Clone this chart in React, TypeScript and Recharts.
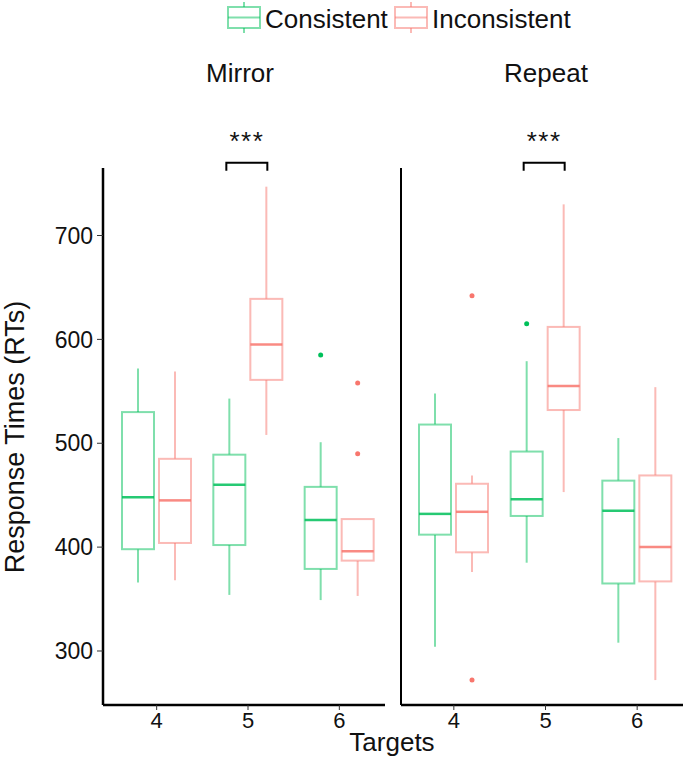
import React from 'react'
import { Bar, ComposedChart, XAxis, YAxis } from 'recharts'

const targets = ['4', '5', '6']

// box summaries: [low whisker, Q1, median, Q3, high whisker]
const mirrorConsistent = [
  [366, 398, 448, 530, 572],
  [354, 402, 460, 489, 543],
  [349, 379, 426, 458, 501],
]
const mirrorInconsistent = [
  [368, 404, 445, 485, 569],
  [508, 561, 595, 639, 747],
  [353, 387, 396, 427, 427],
]
const mirrorConsistentOutliers = [[], [], [585]]
const mirrorInconsistentOutliers = [[], [], [558, 490]]

const repeatConsistent = [
  [304, 412, 432, 518, 548],
  [385, 430, 446, 492, 579],
  [308, 365, 435, 464, 505],
]
const repeatInconsistent = [
  [376, 395, 434, 461, 469],
  [453, 532, 555, 612, 730],
  [272, 367, 400, 469, 554],
]
const repeatConsistentOutliers = [[], [615], []]
const repeatInconsistentOutliers = [[642, 272], [], []]

const significance = ['', '***', '']
const yTicks = [300, 400, 500, 600, 700]

const GREEN = '#00C05A'
const SALMON = '#F8766D'
const FONT = '"Liberation Sans", Arial, sans-serif'
const BAR_SIZE = 32
const BAR_GAP = 5
const BRACKET_VALUE = 770

type Box = { stats: number[]; outliers: number[] }

function buildRows(cons: number[][], consOut: number[][], inc: number[][], incOut: number[][]) {
  return targets.map((t, i) => ({
    target: t,
    consistent: { stats: cons[i], outliers: consOut[i] },
    inconsistent: { stats: inc[i], outliers: incOut[i] },
    sig: significance[i],
  }))
}

const mirrorRows = buildRows(mirrorConsistent, mirrorConsistentOutliers, mirrorInconsistent, mirrorInconsistentOutliers)
const repeatRows = buildRows(repeatConsistent, repeatConsistentOutliers, repeatInconsistent, repeatInconsistentOutliers)

const extent = (b: Box) => [Math.min(b.stats[0], ...b.outliers), Math.max(b.stats[4], ...b.outliers)]

function BoxShape(props: any) {
  const { x, y, width, height, payload, group, color } = props
  const box: Box = payload[group]
  const [lo, hi] = extent(box)
  const top = Math.min(y, y + height)
  const bottom = Math.max(y, y + height)
  const k = (bottom - top) / (hi - lo)
  const py = (v: number) => bottom - (v - lo) * k
  const [wLo, q1, med, q3, wHi] = box.stats
  const cx = x + width / 2
  const sig = group === 'consistent' && payload.sig
  const bx1 = cx - 3
  const bx2 = cx + width + BAR_GAP + 1
  const by = py(BRACKET_VALUE)
  return (
    <g>
      <g stroke={color} strokeOpacity={0.5} strokeWidth={2} fill="none">
        <line x1={cx} x2={cx} y1={py(wHi)} y2={py(q3)} />
        <line x1={cx} x2={cx} y1={py(q1)} y2={py(wLo)} />
        <rect x={x} y={py(q3)} width={width} height={py(q1) - py(q3)} fill="#fff" />
      </g>
      <line x1={x} x2={x + width} y1={py(med)} y2={py(med)} stroke={color} strokeOpacity={0.85} strokeWidth={2.5} />
      {box.outliers.map((o, i) => (
        <circle key={i} cx={cx} cy={py(o)} r={2.5} fill={color} />
      ))}
      {sig && (
        <g>
          <path d={`M${bx1},${by + 8} V${by} H${bx2} V${by + 8}`} stroke="#000" strokeWidth={2} fill="none" />
          <text x={(bx1 + bx2) / 2} y={by - 13} textAnchor="middle" fontFamily={FONT} fontSize={26} letterSpacing={1.5} fill="#111">
            {payload.sig}
          </text>
        </g>
      )}
    </g>
  )
}

function Panel({ rows, showY, width, paddingLeft }: { rows: any[]; showY: boolean; width: number; paddingLeft: number }) {
  return (
    <ComposedChart
      width={width}
      height={761}
      data={rows}
      margin={{ top: 168, right: showY ? 5 : 2, bottom: 0, left: 0 }}
      barSize={BAR_SIZE}
      barGap={BAR_GAP}
    >
      <XAxis
        dataKey="target"
        height={56}
        padding={{ left: paddingLeft, right: 0 }}
        axisLine={{ stroke: '#000', strokeWidth: 2.5 }}
        tickLine={{ stroke: '#333' }}
        tickSize={5}
        tickMargin={2}
        tick={{ fill: '#111', fontSize: 22, fontFamily: FONT }}
      />
      <YAxis
        type="number"
        domain={[248, 765]}
        ticks={yTicks}
        width={showY ? 103 : 11}
        axisLine={{ stroke: '#000', strokeWidth: showY ? 2.5 : 2 }}
        tickLine={showY ? { stroke: '#333' } : false}
        tick={showY ? { fill: '#111', fontSize: 23, fontFamily: FONT } : false}
        tickSize={6}
        tickMargin={4}
      />
      <Bar
        dataKey={(d: any) => extent(d.consistent)}
        name="Consistent"
        isAnimationActive={false}
        shape={(p: any) => <BoxShape {...p} group="consistent" color={GREEN} />}
      />
      <Bar
        dataKey={(d: any) => extent(d.inconsistent)}
        name="Inconsistent"
        isAnimationActive={false}
        shape={(p: any) => <BoxShape {...p} group="inconsistent" color={SALMON} />}
      />
    </ComposedChart>
  )
}

function LegendKey({ x, color }: { x: number; color: string }) {
  const cx = x + 16
  return (
    <g stroke={color} strokeOpacity={0.5} strokeWidth={2} fill="none">
      <line x1={cx} x2={cx} y1={2} y2={7} />
      <line x1={cx} x2={cx} y1={28} y2={33} />
      <rect x={x} y={7} width={32} height={21} />
      <line x1={x} x2={x + 32} y1={17.5} y2={17.5} />
    </g>
  )
}

export default function App() {
  return (
    <div style={{ position: 'absolute', left: 0, top: 0, width: 685, height: 761, background: '#fff', fontFamily: FONT }}>
      <div style={{ position: 'absolute', left: 0, top: 0 }}>
        <Panel rows={mirrorRows} showY width={390} paddingLeft={8} />
      </div>
      <div style={{ position: 'absolute', left: 390, top: 0 }}>
        <Panel rows={repeatRows} showY={false} width={295} paddingLeft={7} />
      </div>
      <svg width={685} height={761} style={{ position: 'absolute', left: 0, top: 0, pointerEvents: 'none' }}>
        <LegendKey x={228} color={GREEN} />
        <text x={265} y={28} fontSize={26} fill="#111" fontFamily={FONT}>Consistent</text>
        <LegendKey x={395} color={SALMON} />
        <text x={432} y={28} fontSize={26} fill="#111" fontFamily={FONT}>Inconsistent</text>
        <text x={240} y={82} fontSize={26} textAnchor="middle" fill="#111" fontFamily={FONT}>Mirror</text>
        <text x={546} y={82} fontSize={26} textAnchor="middle" fill="#111" fontFamily={FONT}>Repeat</text>
        <text
          x={0}
          y={0}
          transform="translate(24,437) rotate(-90)"
          fontSize={27}
          textAnchor="middle"
          fill="#111"
          fontFamily={FONT}
        >
          Response Times (RTs)
        </text>
        <text x={392} y={751} fontSize={26} textAnchor="middle" fill="#111" fontFamily={FONT}>Targets</text>
      </svg>
    </div>
  )
}
